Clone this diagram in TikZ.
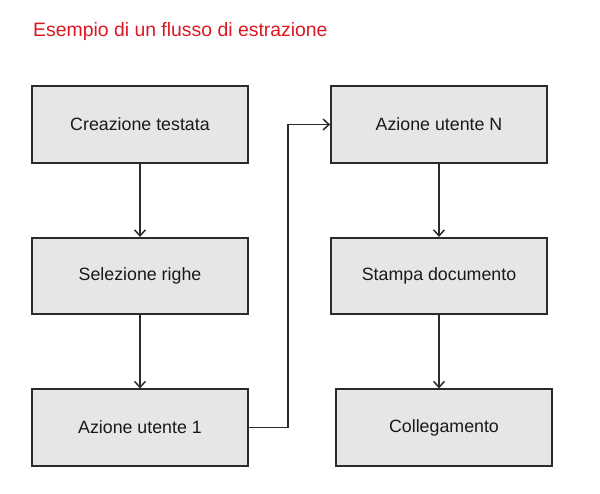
\documentclass[tikz,border=0pt]{standalone}
\usepackage{fontspec}
\setmainfont{Liberation Sans}
\usetikzlibrary{arrows.meta}
\definecolor{boxfill}{HTML}{E6E6E7}
\definecolor{boxline}{HTML}{2B2B2B}
\definecolor{titlered}{HTML}{DC1722}
\begin{document}
\begin{tikzpicture}[x=1pt,y=-1pt,
  flowbox/.style={draw=boxline,fill=boxfill,line width=1.7pt,minimum width=216pt,minimum height=76.5pt,inner sep=0pt,
    font=\fontsize{17.8pt}{20pt}\selectfont,text=black!90},
  conn/.style={draw=boxline,line width=1.5pt,-{Straight Barb[length=6pt,width=11pt,line width=1.5pt]}}]
\useasboundingbox (0,0) rectangle (600,493);
\node[anchor=base west,inner sep=0pt,text=titlered,font=\fontsize{19.4pt}{22pt}\selectfont] (title) at (33,36) {Esempio di un flusso di estrazione};
\node[flowbox] (b1) at (140,124.5) {Creazione testata};
\node[flowbox] (b2) at (140,276) {Selezione righe};
\node[flowbox] (b3) at (140,427.5) {Azione utente 1};
\node[flowbox] (b4) at (439,124.5) {Azione utente N};
\node[flowbox] (b5) at (439,276) {Stampa documento};
\node[flowbox] (b6) at (444,427.5) {Collegamento};
\draw[conn] (b1.south) -- (b2.north);
\draw[conn] (b2.south) -- (b3.north);
\draw[conn] (b3.east) -- (288,427.5) -- (288,124.5) -- (b4.west);
\draw[conn] (b4.south) -- (b5.north);
\draw[conn] (b5.south) -- (b5.south |- b6.north);
\end{tikzpicture}
\end{document}
